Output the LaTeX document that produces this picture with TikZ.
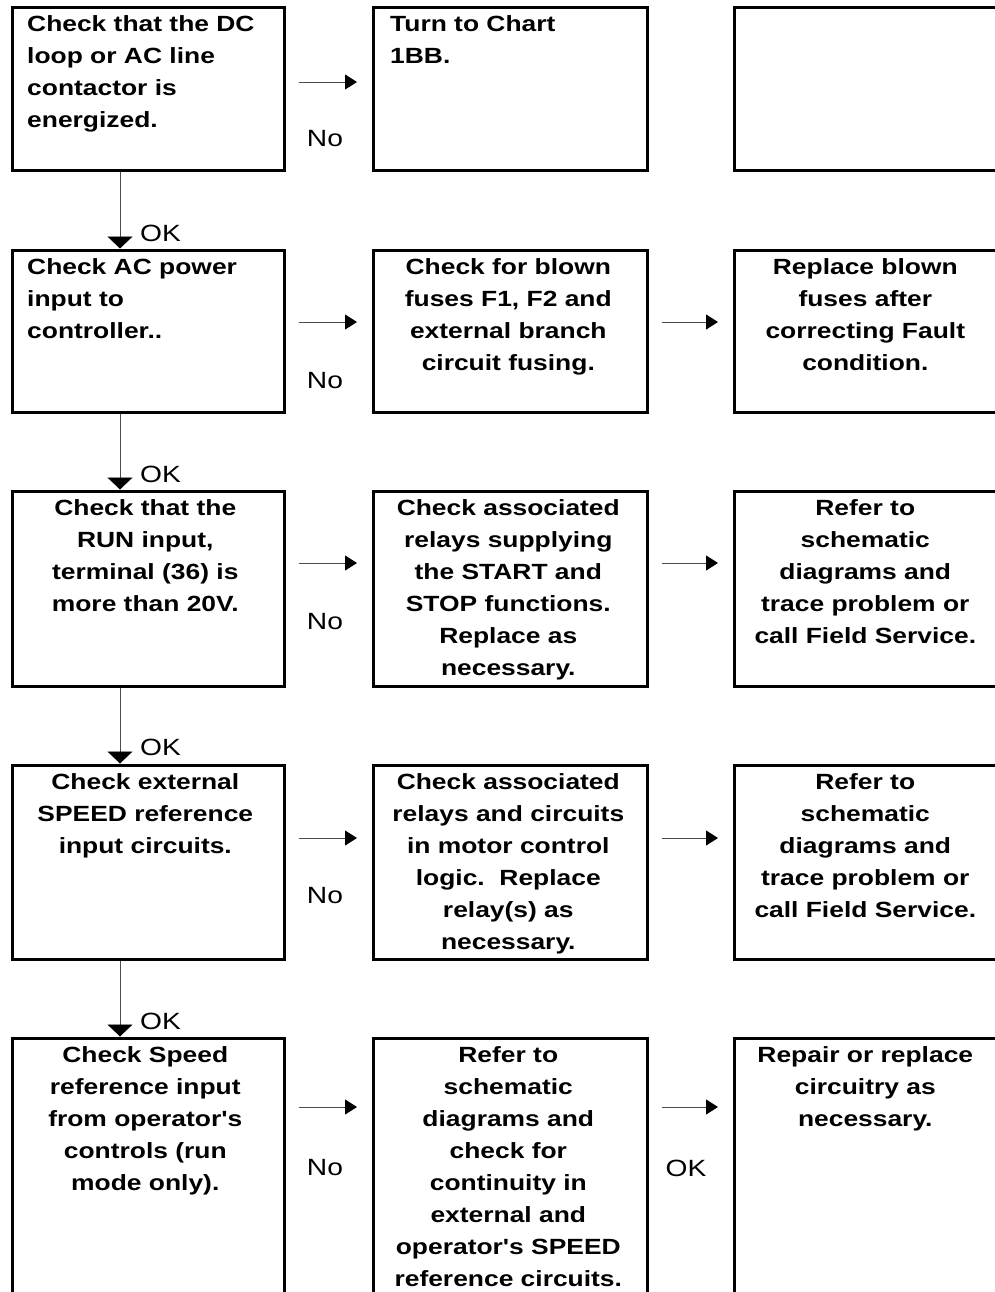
\documentclass[tikz,border=0pt]{standalone}
\usepackage{fontspec}
\setmainfont{Liberation Sans}[FakeStretch=1.2, Ligatures=TeXOff]
\usetikzlibrary{arrows.meta}
\begin{document}
\begin{tikzpicture}[x=1pt,y=-1pt,
  box/.style={draw, line width=2.6pt, inner sep=0pt, anchor=north west},
  txtc/.style={anchor=north, align=center, inner sep=0pt, font=\fontsize{22}{32}\selectfont\bfseries},
  txtl/.style={anchor=north west, align=left, inner sep=0pt, font=\fontsize{22}{32}\selectfont\bfseries},
  lbl/.style={inner sep=0pt, font=\fontsize{23.5}{26}\selectfont},
  harr/.style={line width=0.9pt, black!70, shorten <=13pt, shorten >=15pt,
    -{Triangle[length=12pt,width=15pt,color=black,fill=black]}},
  varr/.style={line width=0.9pt, black!70, shorten >=0.5pt,
    -{Triangle[length=12pt,width=25pt,color=black,fill=black]}}
]
\clip (0,0) rectangle (995,1292);
\fill[white] (0,0) rectangle (995,1292);
% row 1
\node[box, minimum width=272pt, minimum height=163pt] (b11) at (11,6) {};
\node[box, minimum width=274pt, minimum height=163pt] (b12) at (372,6) {};
\node[box, minimum width=266pt, minimum height=163pt] (b13) at (733,6) {};
% row 2
\node[box, minimum width=272pt, minimum height=162pt] (b21) at (11,249) {};
\node[box, minimum width=274pt, minimum height=162pt] (b22) at (372,249) {};
\node[box, minimum width=266pt, minimum height=162pt] (b23) at (733,249) {};
% row 3
\node[box, minimum width=272pt, minimum height=195pt] (b31) at (11,490) {};
\node[box, minimum width=274pt, minimum height=195pt] (b32) at (372,490) {};
\node[box, minimum width=266pt, minimum height=195pt] (b33) at (733,490) {};
% row 4
\node[box, minimum width=272pt, minimum height=194pt] (b41) at (11,764) {};
\node[box, minimum width=274pt, minimum height=194pt] (b42) at (372,764) {};
\node[box, minimum width=266pt, minimum height=194pt] (b43) at (733,764) {};
% row 5
\node[box, minimum width=272pt, minimum height=270pt] (b51) at (11,1037) {};
\node[box, minimum width=274pt, minimum height=270pt] (b52) at (372,1037) {};
\node[box, minimum width=266pt, minimum height=270pt] (b53) at (733,1037) {};

% texts
\node[txtl] (t11) at ([xshift=16pt,yshift=-9.5pt]b11.north west) {Check that the DC\\loop or AC line\\contactor is\\energized.};
\node[txtl] (t12) at ([xshift=18pt,yshift=-9.5pt]b12.north west) {Turn to Chart\\1BB.};
\node[txtl] (t21) at ([xshift=16pt,yshift=-9.5pt]b21.north west) {Check AC power\\input to\\controller..};
\node[txtc] (t22) at ([xshift=-2pt,yshift=-9.5pt]b22.north) {Check for blown\\fuses F1, F2 and\\external branch\\circuit fusing.};
\node[txtc] (t23) at ([xshift=-2pt,yshift=-9.5pt]b23.north) {Replace blown\\fuses after\\correcting Fault\\condition.};
\node[txtc] (t31) at ([xshift=-3pt,yshift=-9.5pt]b31.north) {Check that the\\RUN input,\\terminal (36) is\\more than 20V.};
\node[txtc] (t32) at ([xshift=-2pt,yshift=-9.5pt]b32.north) {Check associated\\relays supplying\\the START and\\STOP functions.\\Replace as\\necessary.};
\node[txtc] (t33) at ([xshift=-2pt,yshift=-9.5pt]b33.north) {Refer to\\schematic\\diagrams and\\trace problem or\\call Field Service.};
\node[txtc] (t41) at ([xshift=-3pt,yshift=-9.5pt]b41.north) {Check external\\SPEED reference\\input circuits.};
\node[txtc] (t42) at ([xshift=-2pt,yshift=-9.5pt]b42.north) {Check associated\\relays and circuits\\in motor control\\logic.\ \ Replace\\relay(s) as\\necessary.};
\node[txtc] (t43) at ([xshift=-2pt,yshift=-9.5pt]b43.north) {Refer to\\schematic\\diagrams and\\trace problem or\\call Field Service.};
\node[txtc] (t51) at ([xshift=-3pt,yshift=-9.5pt]b51.north) {Check Speed\\reference input\\from operator's\\controls (run\\mode only).};
\node[txtc] (t52) at ([xshift=-2pt,yshift=-9.5pt]b52.north) {Refer to\\schematic\\diagrams and\\check for\\continuity in\\external and\\operator's SPEED\\reference circuits.};
\node[txtc] (t53) at ([xshift=-2pt,yshift=-9.5pt]b53.north) {Repair or replace\\circuitry as\\necessary.};

% horizontal arrows
\draw[harr] ([yshift=-76pt]b11.north east) -- ([yshift=-76pt]b12.north west);
\draw[harr] ([yshift=-73pt]b21.north east) -- ([yshift=-73pt]b22.north west);
\draw[harr] ([yshift=-73pt]b22.north east) -- ([yshift=-73pt]b23.north west);
\draw[harr] ([yshift=-73pt]b31.north east) -- ([yshift=-73pt]b32.north west);
\draw[harr] ([yshift=-73pt]b32.north east) -- ([yshift=-73pt]b33.north west);
\draw[harr] ([yshift=-74pt]b41.north east) -- ([yshift=-74pt]b42.north west);
\draw[harr] ([yshift=-74pt]b42.north east) -- ([yshift=-74pt]b43.north west);
\draw[harr] ([yshift=-70pt]b51.north east) -- ([yshift=-70pt]b52.north west);
\draw[harr] ([yshift=-70pt]b52.north east) -- ([yshift=-70pt]b53.north west);

% "No" / "OK" labels
\node[lbl] (n1) at (325,139) {No};
\node[lbl] (n2) at (325,381) {No};
\node[lbl] (n3) at (325,622) {No};
\node[lbl] (n4) at (325,896) {No};
\node[lbl] (n5) at (325,1168) {No};
\node[lbl] (k5) at (686,1168) {OK};

% vertical arrows
\draw[varr] ([xshift=109pt]b11.south west) -- ([xshift=109pt]b21.north west);
\draw[varr] ([xshift=109pt]b21.south west) -- ([xshift=109pt]b31.north west);
\draw[varr] ([xshift=109pt]b31.south west) -- ([xshift=109pt]b41.north west);
\draw[varr] ([xshift=109pt]b41.south west) -- ([xshift=109pt]b51.north west);
\node[lbl, anchor=west] (k1) at (140,233) {OK};
\node[lbl, anchor=west] (k2) at (140,474) {OK};
\node[lbl, anchor=west] (k3) at (140,747) {OK};
\node[lbl, anchor=west] (k4) at (140,1021) {OK};
\end{tikzpicture}
\end{document}
